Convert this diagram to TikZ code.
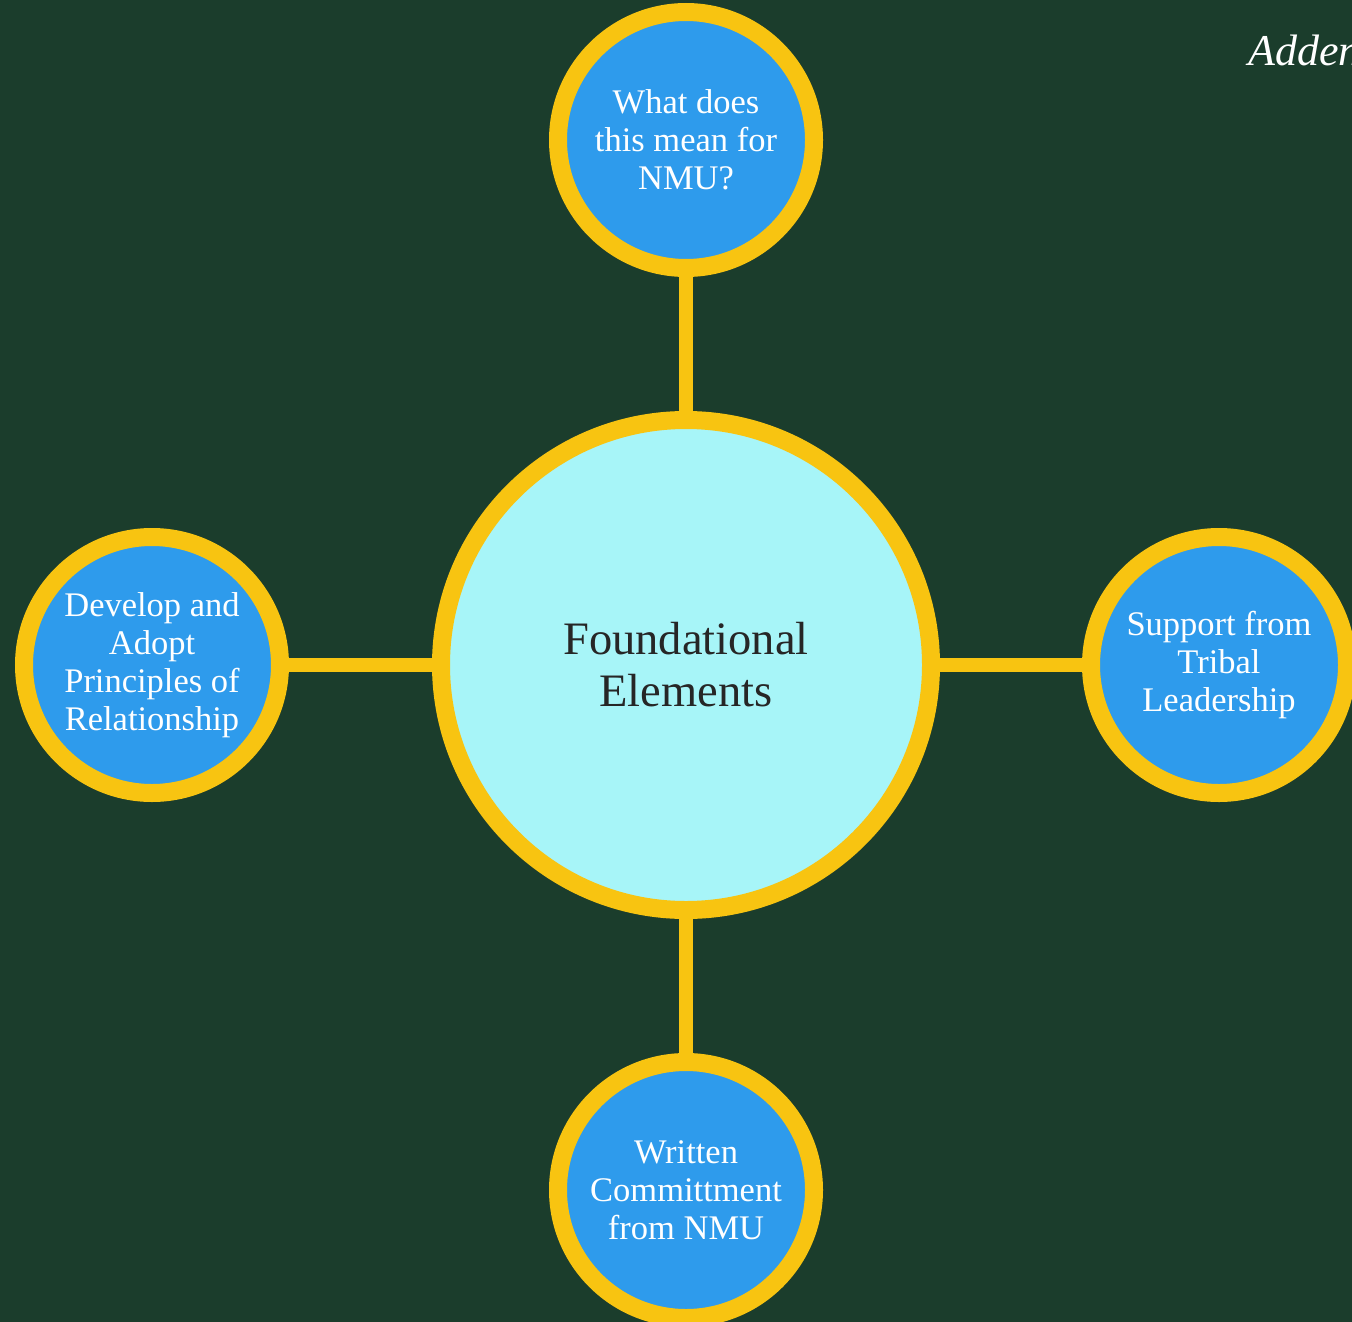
\documentclass[tikz,border=0pt]{standalone}
\usepackage{fontspec}
\setmainfont{Liberation Serif}
\definecolor{bg}{HTML}{1B3D2C}
\definecolor{ring}{HTML}{F8C411}
\definecolor{blueball}{HTML}{2E9BEC}
\definecolor{centerfill}{HTML}{A7F5F8}
\begin{document}
\begin{tikzpicture}[x=1pt,y=-1pt,
  ball/.style={circle,draw=ring,line width=18pt,fill=blueball,minimum size=256pt,inner sep=0pt,text=white,align=center,font=\fontsize{34.5}{38}\selectfont},
  hub/.style={circle,draw=ring,line width=18pt,fill=centerfill,minimum size=490pt,inner sep=0pt,text=black!85,align=center,font=\fontsize{46.5}{52}\selectfont},
  link/.style={draw=ring,line width=14pt}]
\fill[bg] (0,0) rectangle (1352,1322);
\useasboundingbox (0,0) rectangle (1352,1322);
\clip (0,0) rectangle (1352,1322);
\coordinate (cc) at (686,665);
\coordinate (tc) at (686,140);
\coordinate (bc) at (686,1190);
\coordinate (lc) at (152,665);
\coordinate (rc) at (1219,665);
\draw[link] (cc) -- (tc);
\draw[link] (cc) -- (bc);
\draw[link] (cc) -- (lc);
\draw[link] (cc) -- (rc);
\node[hub] (center) at (cc) {Foundational\\Elements};
\node[ball] (top) at (tc) {What does\\this mean for\\NMU?};
\node[ball] (bottom) at (bc) {Written\\Committment\\from NMU};
\node[ball] (left) at (lc) {Develop and\\Adopt\\Principles of\\Relationship};
\node[ball] (right) at (rc) {Support from\\Tribal\\Leadership};
\node[anchor=base west,inner sep=0pt,text=white,font=\fontsize{44}{50}\selectfont\itshape] (title) at (1248,66) {Addendum};
\end{tikzpicture}
\end{document}
